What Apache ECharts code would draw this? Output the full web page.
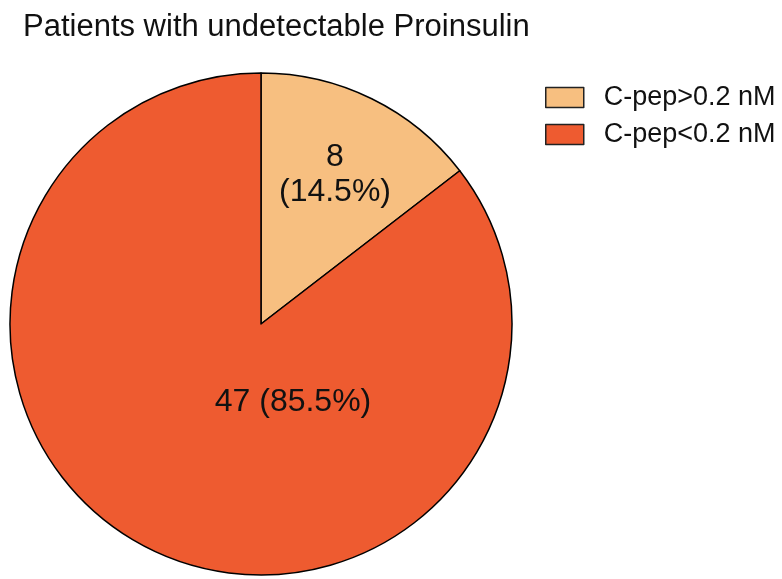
<!DOCTYPE html>
<html>
<head>
<meta charset="utf-8">
<script src="https://cdn.jsdelivr.net/npm/echarts@6/dist/echarts.min.js"></script>
<style>
  html, body { margin: 0; padding: 0; background: #fff; }
  #chart { width: 782px; height: 579px; }
</style>
</head>
<body>
<div id="chart"></div>
<script>
// Patient groups and counts
const categories = ['C-pep>0.2 nM', 'C-pep<0.2 nM'];
const counts = [8, 47];
const colors = ['#F7BF80', '#EE5B30'];

const total = counts.reduce((a, b) => a + b, 0);
const pieData = categories.map((name, i) => ({
  name: name,
  value: counts[i],
  itemStyle: { color: colors[i] }
}));

const FONT = 'Liberation Sans, Arial, Helvetica, sans-serif';

const chart = echarts.init(document.getElementById('chart'), null, { renderer: 'canvas' });
chart.setOption({
  animation: false,
  backgroundColor: '#ffffff',
  title: {
    text: 'Patients with undetectable Proinsulin',
    left: 18,
    top: 7,
    textStyle: {
      fontFamily: FONT,
      fontSize: 31,
      fontWeight: 'normal',
      color: '#111'
    }
  },
  legend: {
    orient: 'vertical',
    left: 540,
    top: 79,
    itemWidth: 38,
    itemHeight: 20,
    itemGap: 10,
    icon: 'rect',
    itemStyle: { borderColor: '#222', borderWidth: 1.5 },
    textStyle: {
      fontFamily: FONT,
      fontSize: 27,
      color: '#111',
      padding: [0, 0, 0, 15]
    },
    data: categories
  },
  series: [{
    type: 'pie',
    center: [261, 324],
    radius: 251,
    startAngle: 90,
    clockwise: true,
    data: pieData,
    itemStyle: { borderColor: '#000', borderWidth: 1.5 },
    emphasis: { disabled: true },
    label: {
      show: true,
      position: 'inside',
      fontFamily: FONT,
      fontSize: 32,
      color: '#111',
      lineHeight: 35,
      align: 'center',
      formatter: function (p) {
        const pct = (p.value / total * 100).toFixed(1) + '%';
        return p.dataIndex === 0 ? p.value + '\n(' + pct + ')' : p.value + ' (' + pct + ')';
      }
    },
    labelLayout: function (p) {
      return p.dataIndex === 0 ? { x: 335, y: 175, align: 'center', verticalAlign: 'middle' }
                               : { x: 293, y: 402, align: 'center', verticalAlign: 'middle' };
    },
    labelLine: { show: false }
  }]
});
</script>
</body>
</html>
